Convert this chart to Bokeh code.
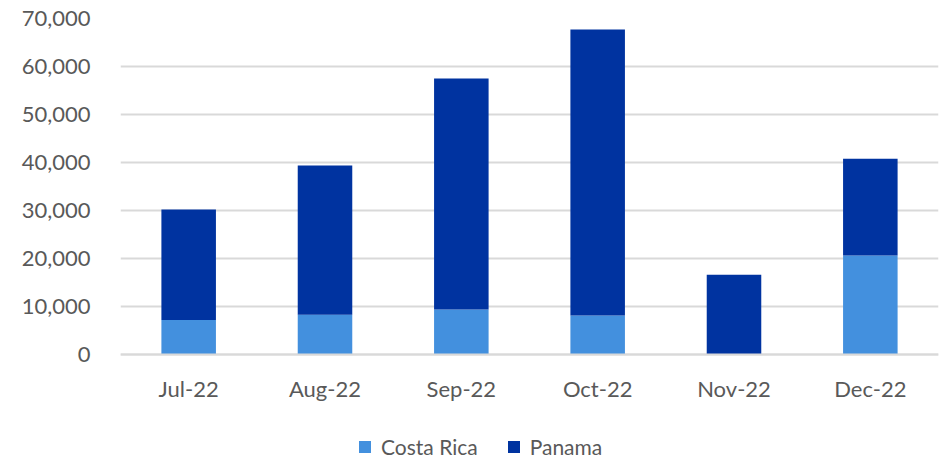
from bokeh.plotting import figure
from bokeh.models import ColumnDataSource, NumeralTickFormatter, Legend, LegendItem, FixedTicker
from bokeh.embed import file_html
from bokeh.resources import INLINE

months = ["Jul-22", "Aug-22", "Sep-22", "Oct-22", "Nov-22", "Dec-22"]
costa_rica = [7200, 8300, 9400, 8100, 0, 20600]
panama = [23000, 31100, 48100, 59600, 16600, 20200]
series = ["Costa Rica", "Panama"]
colors = ["#4390DE", "#0033A0"]
y_ticks = [0, 10000, 20000, 30000, 40000, 50000, 60000, 70000]

FONT = "Lato"
TXT = "#595959"

# layout: frame spans from the top margin to the bottom of the figure; the
# region below zero holds the category labels and the legend
H, TOP, ZERO_Y = 460, 18, 354
Y_MAX = 70000
y_min = -(H - ZERO_Y) * Y_MAX / (ZERO_Y - TOP)

src = ColumnDataSource(dict(month=months, **{"Costa Rica": costa_rica, "Panama": panama}))

p = figure(x_range=months, y_range=(y_min, Y_MAX), width=940, height=H,
           output_backend="svg", toolbar_location=None,
           min_border_left=120, min_border_right=2, min_border_top=TOP, min_border_bottom=0)
p.outline_line_color = None

renderers = p.vbar_stack(series, x="month", width=0.4, color=colors, source=src, line_color=None)

p.yaxis.ticker = FixedTicker(ticks=y_ticks)
p.yaxis.formatter = NumeralTickFormatter(format="0,0")
p.yaxis.axis_line_color = None
p.yaxis.major_tick_line_color = None
p.yaxis.minor_tick_line_color = None
p.yaxis.major_label_standoff = 24
p.xaxis.fixed_location = 0
p.xaxis.axis_line_color = "#d9d9d9"
p.xaxis.axis_line_width = 2
p.xaxis.major_tick_line_color = None
p.xaxis.major_label_standoff = 14
for ax in (p.xaxis, p.yaxis):
    ax.major_label_text_font = FONT
    ax.major_label_text_font_size = "22px"
    ax.major_label_text_color = TXT

p.xgrid.grid_line_color = None
p.ygrid.grid_line_color = "#d9d9d9"
p.ygrid.grid_line_width = 2

legend = Legend(items=[LegendItem(label=s, renderers=[r]) for s, r in zip(series, renderers)],
                orientation="horizontal", location=(237, 1),
                label_text_font=FONT, label_text_font_size="21px", label_text_color=TXT,
                glyph_width=15, glyph_height=15, spacing=28, label_standoff=9,
                border_line_color=None, background_fill_alpha=0, padding=0, margin=0)
p.add_layout(legend, "center")

open("out.html", "w").write(file_html(p, INLINE))
